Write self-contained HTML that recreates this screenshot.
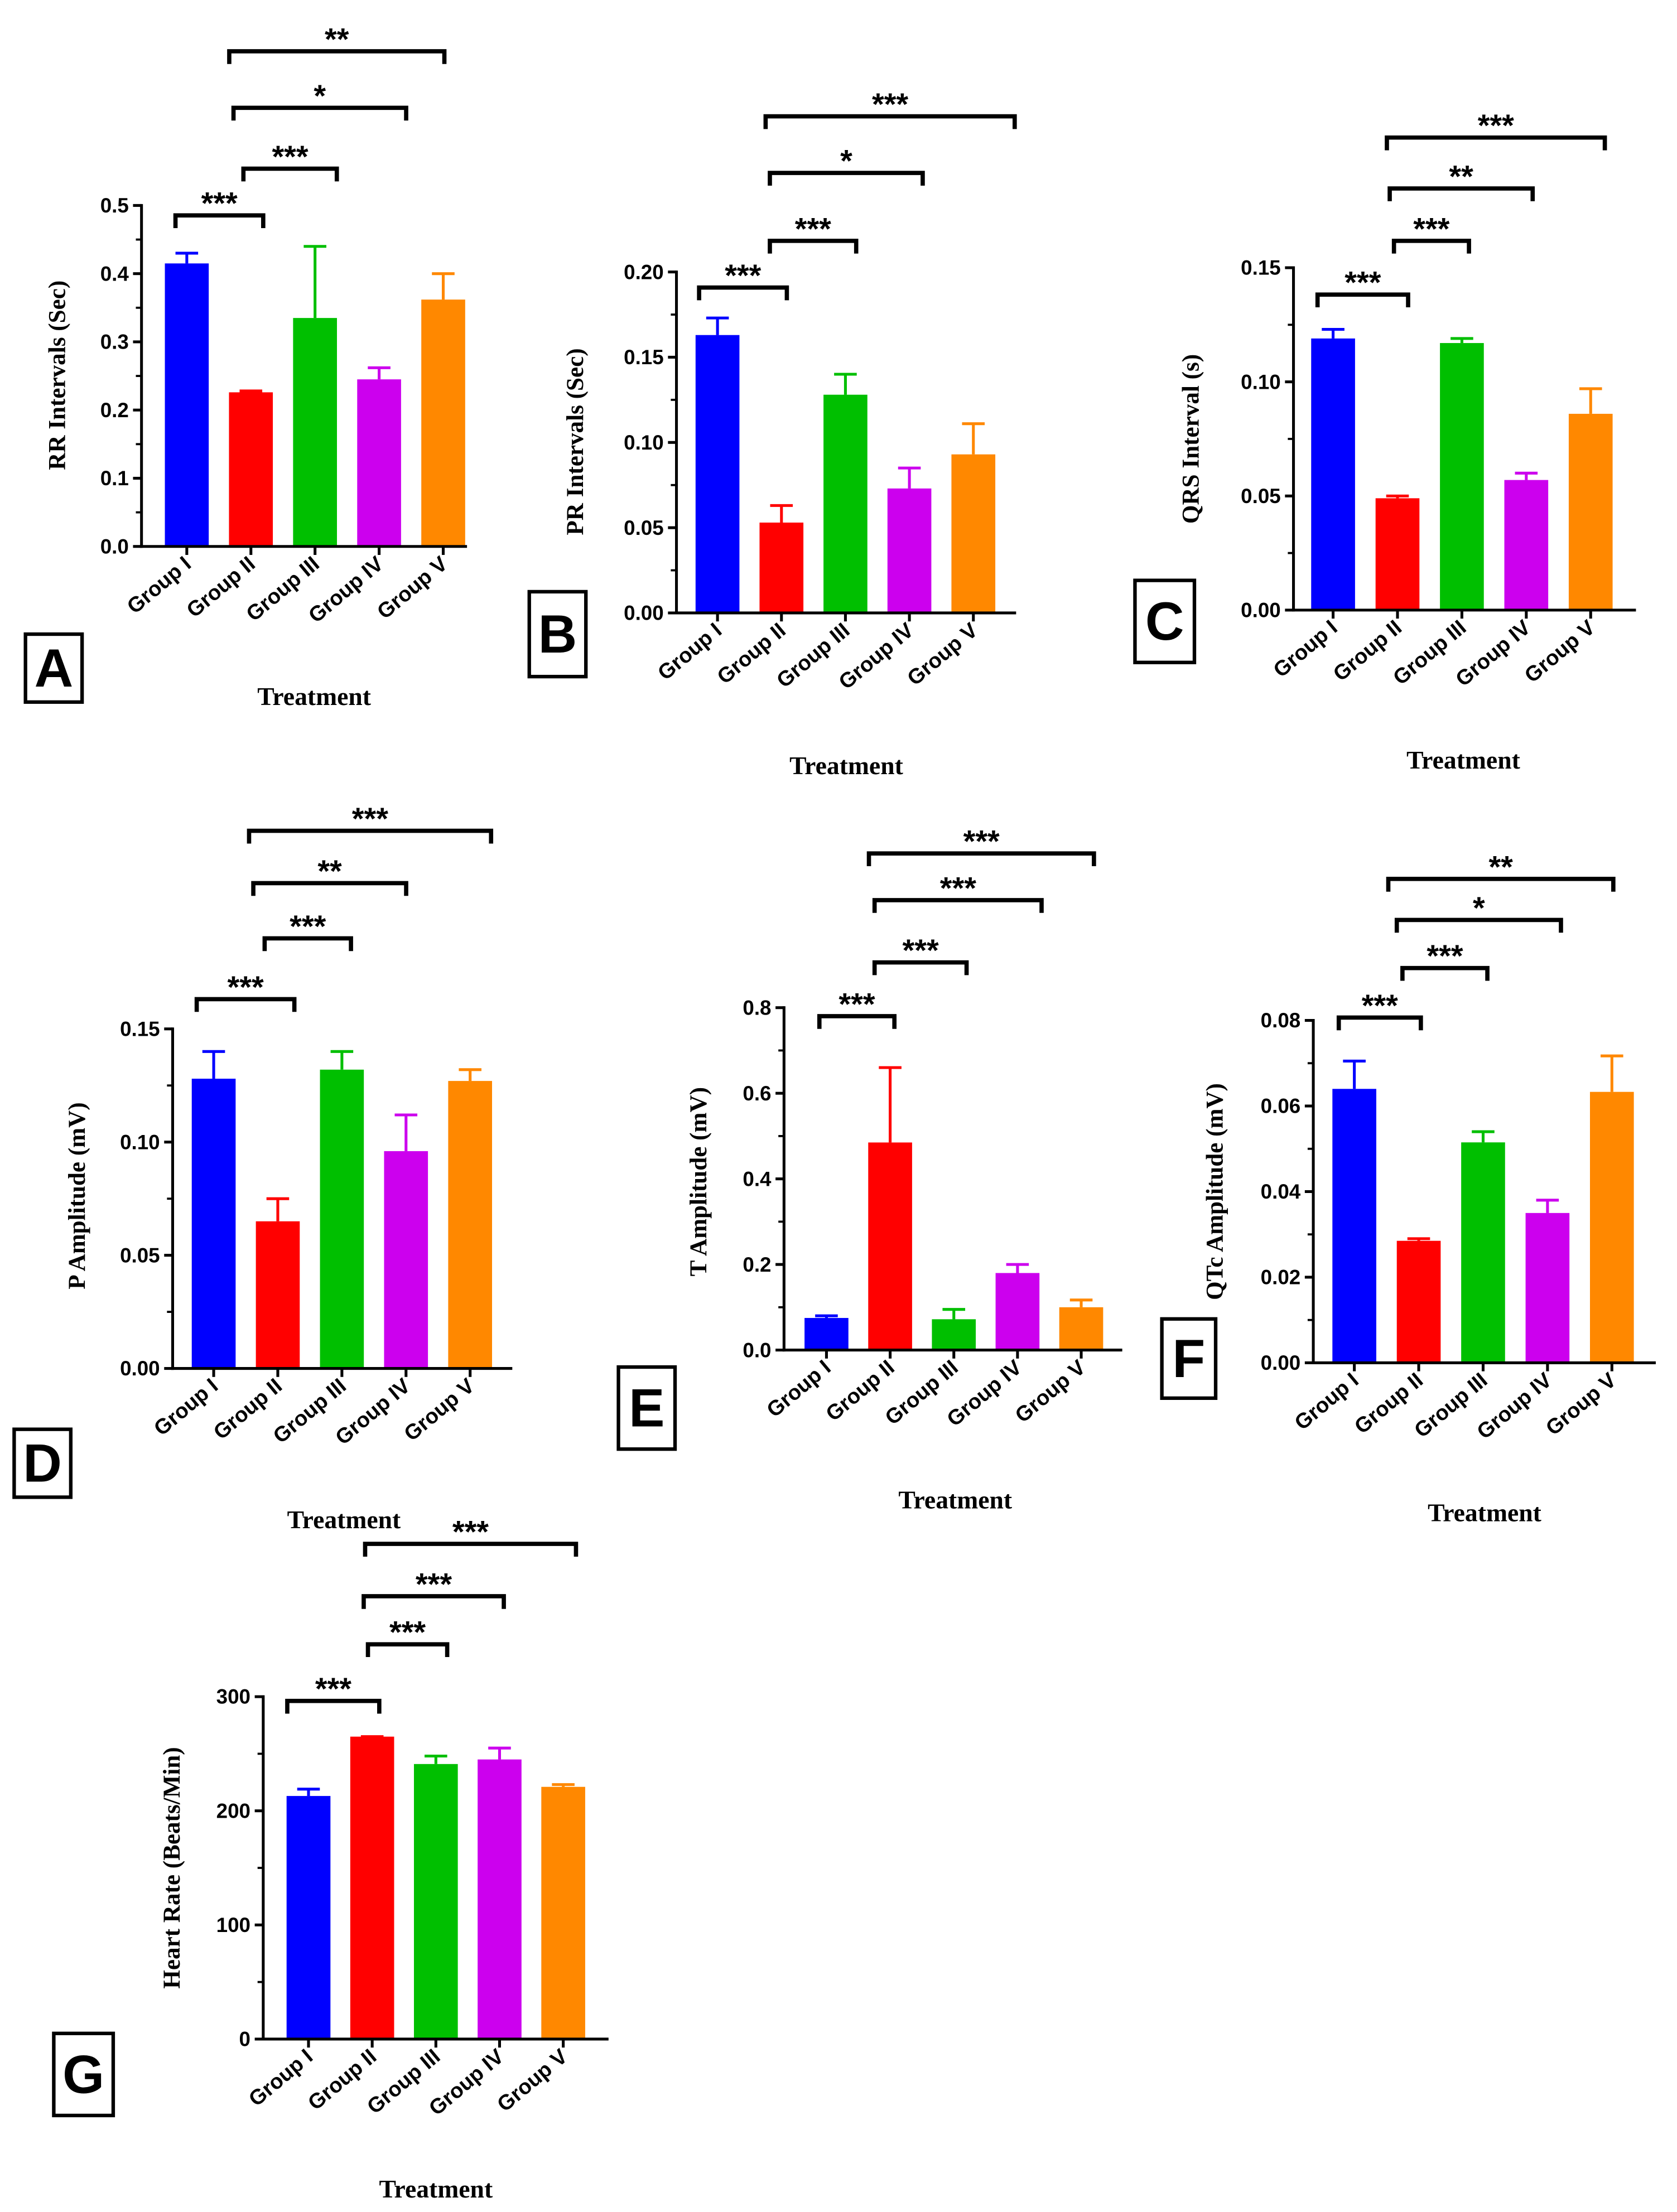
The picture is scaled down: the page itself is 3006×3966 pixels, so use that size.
<!DOCTYPE html>
<html><head><meta charset="utf-8">
<style>
html,body{margin:0;padding:0;background:#fff;}
svg{display:block;}
</style></head>
<body>
<svg id="chart" width="3006" height="3966" viewBox="0 0 1185 1563" xmlns="http://www.w3.org/2000/svg"></svg>
<script>
const categories = ["Group I","Group II","Group III","Group IV","Group V"];
const colors = ["#0000ff","#ff0000","#00bf00","#cc00ee","#ff8800"];

const aValues = [0.415,0.226,0.335,0.245,0.362];
const aErrors = [0.430,0.228,0.440,0.262,0.400];
const aTicks = [0,0.1,0.2,0.3,0.4,0.5];
const aTickLabels = ["0.0","0.1","0.2","0.3","0.4","0.5"];
const aSig = [[0,1,"***"],[1,2,"***"],[1,3,"*"],[1,4,"**"]];

const bValues = [0.163,0.053,0.128,0.073,0.093];
const bErrors = [0.173,0.063,0.140,0.085,0.111];
const bTicks = [0,0.05,0.1,0.15,0.2];
const bTickLabels = ["0.00","0.05","0.10","0.15","0.20"];
const bSig = [[0,1,"***"],[1,2,"***"],[1,3,"*"],[1,4,"***"]];

const cValues = [0.119,0.049,0.117,0.057,0.086];
const cErrors = [0.123,0.050,0.119,0.060,0.097];
const cTicks = [0,0.05,0.1,0.15];
const cTickLabels = ["0.00","0.05","0.10","0.15"];
const cSig = [[0,1,"***"],[1,2,"***"],[1,3,"**"],[1,4,"***"]];

const dValues = [0.128,0.065,0.132,0.096,0.127];
const dErrors = [0.140,0.075,0.140,0.112,0.132];
const dTicks = [0,0.05,0.1,0.15];
const dTickLabels = ["0.00","0.05","0.10","0.15"];
const dSig = [[0,1,"***"],[1,2,"***"],[1,3,"**"],[1,4,"***"]];

const eValues = [0.075,0.485,0.072,0.180,0.100];
const eErrors = [0.080,0.660,0.095,0.200,0.117];
const eTicks = [0,0.2,0.4,0.6,0.8];
const eTickLabels = ["0.0","0.2","0.4","0.6","0.8"];
const eSig = [[0,1,"***"],[1,2,"***"],[1,3,"***"],[1,4,"***"]];

const fValues = [0.064,0.0285,0.0515,0.035,0.0633];
const fErrors = [0.0705,0.029,0.054,0.038,0.0717];
const fTicks = [0,0.02,0.04,0.06,0.08];
const fTickLabels = ["0.00","0.02","0.04","0.06","0.08"];
const fSig = [[0,1,"***"],[1,2,"***"],[1,3,"*"],[1,4,"**"]];

const gValues = [213,265,241,245,221];
const gErrors = [219,265,248,255,223];
const gTicks = [0,100,200,300];
const gTickLabels = ["0","100","200","300"];
const gSig = [[0,1,"***"],[1,2,"***"],[1,3,"***"],[1,4,"***"]];

const panels = [
 {id:"a",vals:aValues,errs:aErrors,ticks:aTicks,tl:aTickLabels,sig:aSig,title:"RR Intervals (Sec)",ax:100,y0:386,y1:145,max:0.5,xEnd:330,cx0:132,dx:45.3,titleX:46,titleY:265,trtX:222,trtY:498,box:[18,448,40,48],letter:"A",sigY:[152,119,76,36],sigX:[[124,186],[172,238],[165,287],[162,314]]},
 {id:"b",vals:bValues,errs:bErrors,ticks:bTicks,tl:bTickLabels,sig:bSig,title:"PR Intervals (Sec)",ax:478,y0:433,y1:192,max:0.2,xEnd:718,cx0:507,dx:45.2,titleX:412,titleY:312,trtX:598,trtY:547,box:[374,418,40,60],letter:"B",sigY:[203,170,122,82],sigX:[[494,556],[544,605],[544,652],[541,717]]},
 {id:"c",vals:cValues,errs:cErrors,ticks:cTicks,tl:cTickLabels,sig:cSig,title:"QRS Interval (s)",ax:914,y0:431,y1:189,max:0.15,xEnd:1156,cx0:942,dx:45.5,titleX:847,titleY:310,trtX:1034,trtY:543,box:[802,410,42,58],letter:"C",sigY:[208,170,133,97],sigX:[[931,995],[985,1038],[982,1083],[980,1134]]},
 {id:"d",vals:dValues,errs:dErrors,ticks:dTicks,tl:dTickLabels,sig:dSig,title:"P Amplitude (mV)",ax:122,y0:967,y1:727,max:0.15,xEnd:362,cx0:151,dx:45.3,titleX:60,titleY:845,trtX:243,trtY:1080,box:[10,1010,40,48],letter:"D",sigY:[706,663,624,587],sigX:[[139,208],[187,248],[179,287],[176,347]]},
 {id:"e",vals:eValues,errs:eErrors,ticks:eTicks,tl:eTickLabels,sig:eSig,title:"T Amplitude (mV)",ax:554,y0:954,y1:712,max:0.8,xEnd:793,cx0:584,dx:45,titleX:499,titleY:835,trtX:675,trtY:1066,box:[437,966,40,58],letter:"E",sigY:[718,680,636,603],sigX:[[579,632],[618,683],[618,736],[614,773]]},
 {id:"f",vals:fValues,errs:fErrors,ticks:fTicks,tl:fTickLabels,sig:fSig,title:"QTc Amplitude (mV)",ax:928,y0:963,y1:721,max:0.08,xEnd:1170,cx0:957,dx:45.5,titleX:864,titleY:842,trtX:1049,trtY:1075,box:[821,932,38,56],letter:"F",sigY:[719,684,650,621],sigX:[[946,1004],[991,1051],[987,1103],[981,1140]]},
 {id:"g",vals:gValues,errs:gErrors,ticks:gTicks,tl:gTickLabels,sig:gSig,title:"Heart Rate (Beats/Min)",ax:186,y0:1441,y1:1199,max:300,xEnd:430,cx0:218,dx:45,titleX:127,titleY:1320,trtX:308,trtY:1553,box:[38,1437,42,58],letter:"G",sigY:[1202,1162,1128,1091],sigX:[[203,268],[260,316],[257,356],[258,407]]}
];

const svg = document.getElementById('chart');
const NS = "http://www.w3.org/2000/svg";
function mk(tag, attrs, parent, text){
  const e = document.createElementNS(NS, tag);
  for (const k in attrs) e.setAttribute(k, attrs[k]);
  if (text !== undefined) e.textContent = text;
  parent.appendChild(e);
  return e;
}

panels.forEach(p => {
  const g = mk('g', {}, svg);
  
  
  const yS = v => p.y0 - (v / p.max) * (p.y0 - p.y1);
  const xS = i => p.cx0 + i * p.dx;
  // bars
  p.vals.forEach((v, i) => {
    const b = mk('rect', {x: xS(i) - 15.5, y: yS(v), width: 31, height: p.y0 - yS(v), fill: colors[i]}, g);
    
    
    const ey = yS(p.errs[i]);
    const eb = mk('path', {d: `M${xS(i)},${yS(v)}V${ey}M${xS(i)-8},${ey}H${xS(i)+8}`, stroke: colors[i], 'stroke-width': 2, fill: 'none'}, g);
    
    
  });
  // axes
  const ya = mk('line', {x1: p.ax, y1: p.y0 + 1, x2: p.ax, y2: p.y1 - 1, stroke: '#000', 'stroke-width': 2}, g);
  
  
  const xa = mk('line', {x1: p.ax - 1, y1: p.y0, x2: p.xEnd, y2: p.y0, stroke: '#000', 'stroke-width': 2}, g);
  
  
  p.ticks.forEach((t, i) => {
    const y = yS(t);
    mk('line', {x1: p.ax - 6, y1: y, x2: p.ax, y2: y, stroke: '#000', 'stroke-width': 2}, g);
    const lbl = mk('text', {x: p.ax - 9, y: y + 5, 'text-anchor': 'end', 'font-family': 'Liberation Sans, sans-serif', 'font-weight': 'bold', 'font-size': 14.5}, g, p.tl[i]);
    
    
    if (i < p.ticks.length - 1) {
      const my = yS((t + p.ticks[i + 1]) / 2);
      mk('line', {x1: p.ax - 4, y1: my, x2: p.ax, y2: my, stroke: '#000', 'stroke-width': 1.5}, g);
    }
  });
  categories.forEach((c, i) => {
    mk('line', {x1: xS(i), y1: p.y0, x2: xS(i), y2: p.y0 + 6, stroke: '#000', 'stroke-width': 2}, g);
    const lx = xS(i) + 4, ly = p.y0 + 14;
    const t = mk('text', {x: lx, y: ly, 'text-anchor': 'end', transform: `rotate(-40 ${lx} ${ly})`, 'font-family': 'Liberation Sans, sans-serif', 'font-weight': 'bold', 'font-size': 15}, g, c);
    
    
  });
  const yt = mk('text', {x: p.titleX, y: p.titleY, 'text-anchor': 'middle', transform: `rotate(-90 ${p.titleX} ${p.titleY})`, 'font-family': 'Liberation Serif, serif', 'font-weight': 'bold', 'font-size': 17}, g, p.title);
  
  
  const xt = mk('text', {x: p.trtX, y: p.trtY, 'text-anchor': 'middle', 'font-family': 'Liberation Serif, serif', 'font-weight': 'bold', 'font-size': 18}, g, 'Treatment');
  
  
  // letter box
  const bx = mk('rect', {x: p.box[0], y: p.box[1], width: p.box[2], height: p.box[3], fill: '#fff', stroke: '#000', 'stroke-width': 2.5}, g);
  
  
  const lt = mk('text', {x: p.box[0] + p.box[2] / 2, y: p.box[1] + p.box[3] / 2 + 13, 'text-anchor': 'middle', 'font-family': 'Liberation Sans, sans-serif', 'font-weight': 'bold', 'font-size': 38}, g, p.letter);
  
  
  // significance brackets
  p.sig.forEach((s, k) => {
    const y = p.sigY[k], x1 = p.sigX[k][0], x2 = p.sigX[k][1];
    const br = mk('path', {d: `M${x1},${y+9}V${y}H${x2}V${y+9}`, stroke: '#000', 'stroke-width': 3, fill: 'none'}, g);
    
    
    const st = mk('text', {x: (x1 + x2) / 2, y: y - 1, 'text-anchor': 'middle', 'font-family': 'Liberation Sans, sans-serif', 'font-weight': 'bold', 'font-size': 22}, g, s[2]);
    
    
  });
});
</script>
</body></html>
